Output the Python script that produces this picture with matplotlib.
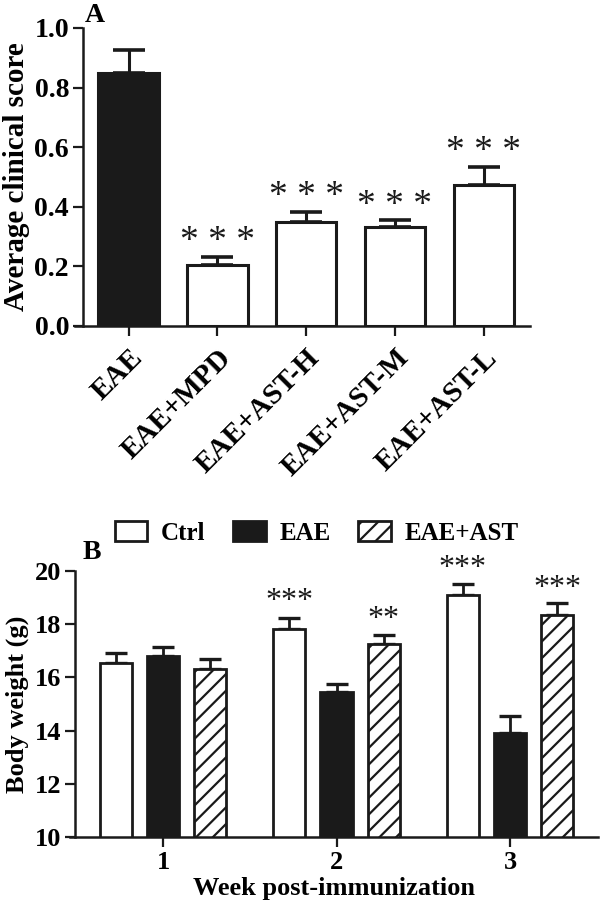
import matplotlib
matplotlib.use("Agg")
import matplotlib.pyplot as plt
import numpy as np

plt.rcParams['font.family'] = ['Liberation Serif', 'DejaVu Serif']
plt.rcParams['font.weight'] = 'bold'
plt.rcParams['axes.labelweight'] = 'bold'
plt.rcParams['hatch.linewidth'] = 1.6
plt.rcParams['hatch.color'] = '#1a1a1a'

# Panel A: clinical score
groups_a = ['EAE', 'EAE+MPD', 'EAE+AST-H', 'EAE+AST-M', 'EAE+AST-L']
score_mean = [0.850, 0.205, 0.350, 0.333, 0.472]
score_sem = [0.075, 0.027, 0.034, 0.022, 0.061]
stars_a = ['', '***', '***', '***', '***']

# Panel B: body weight
weeks = [1, 2, 3]
ctrl_mean = [16.54, 17.80, 19.08]
ctrl_sem = [0.38, 0.44, 0.42]
eae_mean = [16.80, 15.45, 13.91]
eae_sem = [0.34, 0.30, 0.64]
ast_mean = [16.32, 17.24, 18.33]
ast_sem = [0.37, 0.37, 0.45]
ctrl_stars = ['', '***', '***']
ast_stars = ['', '**', '***']

ink = '#1a1a1a'
fig = plt.figure(figsize=(6.0, 9.02), dpi=100)

# ---------- A ----------
ax = fig.add_axes([0.125, 0.6386, 0.7583, 0.3304])
xa = np.arange(len(groups_a))
colors = [ink] + ['white'] * 4
ax.bar(xa, score_mean, width=0.68, color=colors, edgecolor=ink, linewidth=2.2, zorder=2)
ax.errorbar(xa, score_mean, yerr=[np.zeros(len(xa)), score_sem], fmt='none',
            ecolor=ink, elinewidth=2.2, capsize=11.5, capthick=2.6, zorder=1)
for i, s in enumerate(stars_a):
    if s:
        ax.text(xa[i], score_mean[i] + score_sem[i] + 0.05, ' '.join(s),
                ha='center', va='center', fontsize=27, fontweight='normal', color=ink)
ax.set_xlim(-0.603, 4.52)
ax.set_ylim(0, 1.0)
ax.set_yticks(np.arange(0, 1.01, 0.2))
ax.set_yticklabels(['%.1f' % v for v in np.arange(0, 1.01, 0.2)])
ax.set_xticks(xa)
ax.set_xticklabels(groups_a, rotation=45, ha='right', rotation_mode='anchor')
ax.spines['left'].set_position(('data', -0.513))
for sp in ['top', 'right']:
    ax.spines[sp].set_visible(False)
for sp in ['left', 'bottom']:
    ax.spines[sp].set_linewidth(1.8)
    ax.spines[sp].set_color(ink)
ax.tick_params(axis='both', length=7, width=1.6, color=ink, labelsize=20, pad=3)
ax.tick_params(axis='x', labelsize=21, pad=6)
ax.set_ylabel('Average clinical score', fontsize=21, labelpad=3)
fig.text(0.158, 0.983, 'A', fontsize=20, fontweight='bold', va='center', ha='center')

# ---------- B ----------
bx = fig.add_axes([0.1167, 0.0721, 0.88, 0.2949])
xb = np.array(weeks, dtype=float)
off = 0.272
w = 0.185
specs = [
    (ctrl_mean, ctrl_sem, 'white', '', 'Ctrl', -off),
    (eae_mean, eae_sem, ink, '', 'EAE', 0.0),
    (ast_mean, ast_sem, 'white', '//', 'EAE+AST', off),
]
for mean, sem, fc, hatch, lab, dx in specs:
    bx.bar(xb + dx, mean, width=w, color=fc, edgecolor=ink, hatch=hatch,
           linewidth=2.0, label=lab, zorder=2)
    bx.errorbar(xb + dx, mean, yerr=[np.zeros(3), sem], fmt='none', ecolor=ink,
                elinewidth=2.0, capsize=8, capthick=2.4, zorder=1)
for i in range(3):
    if ctrl_stars[i]:
        bx.text(xb[i] - off, ctrl_mean[i] + ctrl_sem[i] + 0.6, ctrl_stars[i],
                ha='center', va='center', fontsize=23, fontweight='normal', color=ink)
    if ast_stars[i]:
        bx.text(xb[i] + off, ast_mean[i] + ast_sem[i] + 0.55, ast_stars[i],
                ha='center', va='center', fontsize=23, fontweight='normal', color=ink)
bx.set_xlim(0.464, 3.507)
bx.set_ylim(10, 20)
bx.set_yticks(np.arange(10, 21, 2))
bx.set_xticks(xb)
bx.set_xticklabels([str(v) for v in weeks])
bx.spines['left'].set_position(('data', 0.493))
for sp in ['top', 'right']:
    bx.spines[sp].set_visible(False)
for sp in ['left', 'bottom']:
    bx.spines[sp].set_linewidth(1.8)
    bx.spines[sp].set_color(ink)
bx.tick_params(axis='both', length=7, width=1.6, color=ink, labelsize=19, pad=3)
bx.set_ylabel('Body weight (g)', fontsize=19, labelpad=4)
bx.set_xlabel('Week post-immunization', fontsize=19, labelpad=2)
bx.legend(loc='center', bbox_to_anchor=(0.528, 0.409), bbox_transform=fig.transFigure,
          ncol=3, frameon=False, fontsize=18, handlelength=1.3, handleheight=0.8,
          handletextpad=0.56, columnspacing=1.1)
fig.text(0.153, 0.387, 'B', fontsize=20, fontweight='bold', va='center', ha='center')

fig.savefig('out.png', dpi=100)
